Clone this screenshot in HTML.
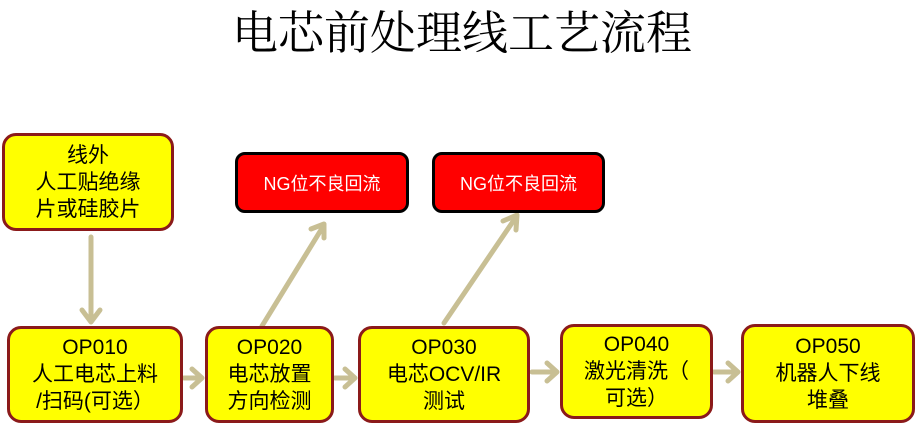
<!DOCTYPE html>
<html><head><meta charset="utf-8"><style>
body{margin:0;width:916px;height:426px;background:#fff;position:relative;overflow:hidden;font-family:"Liberation Sans","Noto Sans CJK SC",sans-serif;}
.t{position:absolute;left:4px;width:916px;top:8px;text-align:center;font-size:46px;line-height:52px;font-family:"Liberation Serif","Noto Serif CJK SC",serif;color:#000;}
.b{position:absolute;box-sizing:border-box;background:#ffff00;border:3px solid #8b1a1a;border-radius:14px;display:flex;align-items:center;justify-content:center;text-align:center;font-size:21px;line-height:27px;color:#000;}
.r{position:absolute;box-sizing:border-box;background:#ff0000;border:3px solid #000;border-radius:10px;display:flex;align-items:center;justify-content:center;color:#fff;font-size:18px;}
svg{position:absolute;left:0;top:0;}
</style></head><body>
<div class="t">电芯前处理线工艺流程</div>
<svg width="916" height="426"><g stroke="#c8bf94" stroke-width="5" fill="none" stroke-linecap="round" stroke-linejoin="round">
<line x1="91" y1="237" x2="91" y2="321"/><polyline points="82,310 91,322 100,310"/>
<line x1="184" y1="378" x2="201" y2="378"/><polyline points="192,369 202,378 192,387"/>
<line x1="335" y1="378" x2="354" y2="378"/><polyline points="345,369 355,378 345,387"/>
<line x1="532" y1="372" x2="556" y2="372"/><polyline points="547,363 557,372 547,381"/>
<line x1="714" y1="372" x2="737" y2="372"/><polyline points="728,363 738,372 728,381"/>
<line x1="262" y1="326" x2="324" y2="225"/><polyline points="311,229 324,224 324,238"/>
<line x1="444" y1="323" x2="516" y2="217"/><polyline points="503,221 517,215 516,230"/>
</g></svg>
<div class="b" style="left:2px;top:133px;width:172px;height:98px;">线外<br>人工贴绝缘<br>片或硅胶片</div>
<div class="b" style="left:7px;top:326px;width:176px;height:97px;">OP010<br>人工电芯上料<br>/扫码(可选）</div>
<div class="b" style="left:205px;top:326px;width:129px;height:97px;">OP020<br>电芯放置<br>方向检测</div>
<div class="b" style="left:358px;top:326px;width:172px;height:97px;">OP030<br>电芯OCV/IR<br>测试</div>
<div class="b" style="left:560px;top:324px;width:153px;height:95px;">OP040<br>激光清洗（<br>可选）</div>
<div class="b" style="left:741px;top:324px;width:174px;height:99px;">OP050<br>机器人下线<br>堆叠</div>
<div class="r" style="left:235px;top:152px;width:174px;height:61px;">NG位不良回流</div>
<div class="r" style="left:432px;top:152px;width:173px;height:61px;">NG位不良回流</div>
</body></html>
